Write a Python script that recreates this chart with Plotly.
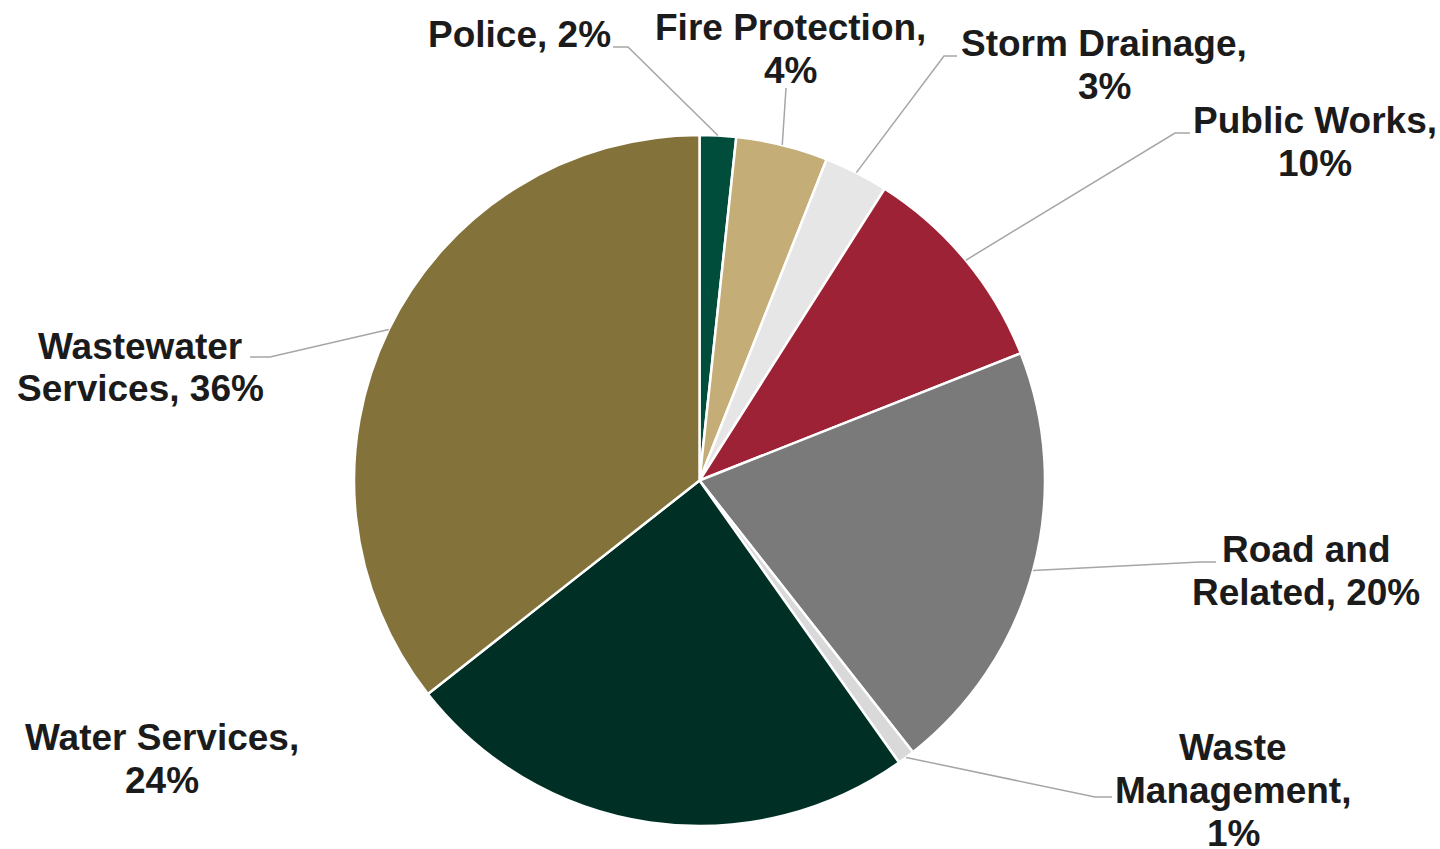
import math
import plotly.graph_objects as go

# ---- data ----
categories = ["Police", "Fire Protection", "Storm Drainage", "Public Works",
              "Road and Related", "Waste Management", "Water Services",
              "Wastewater Services"]
values = [1.7, 4.3, 3.0, 10.0, 20.4, 0.8, 24.2, 35.6]
colors = ["#004D3B", "#C4AD76", "#E6E6E6", "#9D2235",
          "#7A7A7A", "#D9D9D9", "#003025", "#84723B"]
# word index after which each label wraps
breaks = [[], [2], [2], [2], [2], [1, 2], [2], [1]]

# ---- layout (pixels) ----
W, H = 1440, 849
CX, CY, R = 699.5, 480.5, 345.5
LINE_GAP = 43
FONT_SIZE = 37
# label block: centre x, cap-middle y of first line
label_pos = [(519, 35), (790, 27), (1104, 43), (1315, 120),
             (1306, 549), (1233, 747), (162, 737), (140, 346)]
# leader line: elbow point and end point (None = no leader)
leaders = [((628, 47), (613, 47)), ((786, 88), (786, 88)),
           ((944, 56), (957, 56)), ((1175, 133), (1190, 133)),
           ((1200, 562), (1216, 562)), ((1095, 797), (1112, 797)),
           None, ((270, 357), (250, 357))]


def px(x):
    return x / W


def py(y):
    return 1 - y / H


total = sum(values)
fig = go.Figure(go.Pie(
    labels=categories, values=values, sort=False, direction="clockwise",
    rotation=0, textinfo="none", hoverinfo="label+percent",
    marker=dict(colors=colors, line=dict(color="white", width=2.5)),
    domain=dict(x=[px(CX - 420), px(CX + 420)],
                y=[py(CY + R), py(CY - R)]),
    showlegend=False,
))

annotations = []
shapes = []
cum = 0.0
for i, (cat, v) in enumerate(zip(categories, values)):
    pct = round(v / total * 100)
    words = f"{cat}, {pct}%".split(" ")
    lines, start = [], 0
    for b in breaks[i] + [len(words)]:
        lines.append(" ".join(words[start:b]))
        start = b
    lx, ly = label_pos[i]
    for k, ln in enumerate(lines):
        annotations.append(dict(
            x=px(lx), y=py(ly + k * LINE_GAP), xref="paper", yref="paper",
            text=f"<b>{ln}</b>", showarrow=False, xanchor="center",
            yanchor="middle",
            font=dict(family="Liberation Sans, Arial", size=FONT_SIZE,
                      color="#1b1b1b")))
    theta = 2 * math.pi * (cum + v / 2) / total
    cum += v
    if leaders[i] is None:
        continue
    ax, ay = CX + R * math.sin(theta), CY - R * math.cos(theta)
    (ex, ey), (fx, fy) = leaders[i]
    path = (f"M {px(ax)} {py(ay)} L {px(ex)} {py(ey)} "
            f"L {px(fx)} {py(fy)}")
    shapes.append(dict(type="path", path=path, xref="paper", yref="paper",
                       line=dict(color="#A6A6A6", width=1.5)))

fig.update_layout(
    width=W, height=H, margin=dict(l=0, r=0, t=0, b=0),
    paper_bgcolor="white", plot_bgcolor="white",
    annotations=annotations, shapes=shapes,
)
fig.write_html(
    "out.html",
    config={"displayModeBar": False},
    post_script="document.body.style.margin='0';"
                "document.body.style.overflow='hidden';",
)
